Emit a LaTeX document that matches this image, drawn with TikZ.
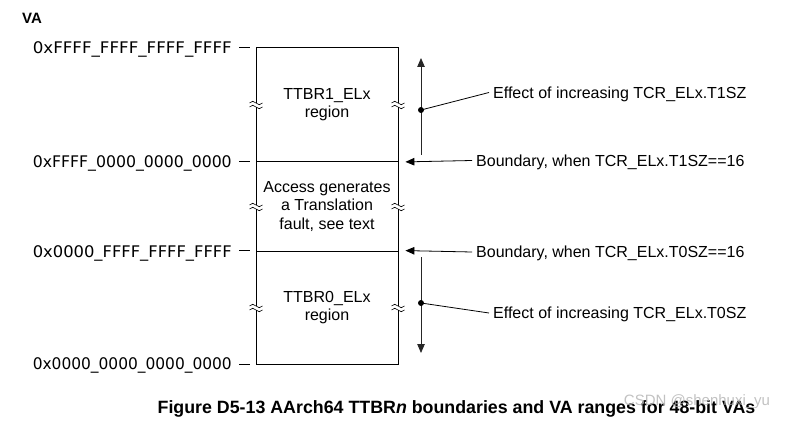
\documentclass[tikz,border=0pt]{standalone}
\usepackage{fontspec}
\setmainfont{Liberation Sans}
\newfontfamily\addrfont{DejaVu Sans}
\usetikzlibrary{arrows.meta}
\newcommand{\vaddr}[1]{\resizebox{199pt}{\height}{#1}}
\tikzset{
	addr/.style={anchor=east, inner sep=0pt, text height=11.5pt, text depth=0pt, font=\addrfont\fontsize{16}{18}\selectfont},
	region/.style={draw, line width=0.8pt, minimum width=142pt, inner sep=0pt, align=center, font=\fontsize{16}{18.5}\selectfont},
	note/.style={anchor=west, inner sep=4pt, text height=11.5pt, text depth=0pt, font=\fontsize{16}{18}\selectfont},
	tip/.style={-{Triangle[length=9pt,width=7.5pt]}, line width=0.8pt, draw=black!85},
}
\begin{document}
\begin{tikzpicture}[x=1pt,y=-1pt]
	\useasboundingbox (0,0) rectangle (787,422);
	\node (VA) at (32,18.5) [inner sep=0pt, font=\bfseries\fontsize{15}{18}\selectfont] {VA};
	% regions
	\node (R1) at (327,104.5) [region, minimum height=114pt] {TTBR1\_ELx\\region};
	\node (R2) at (327,206.5) [region, minimum height=90pt] {Access generates\\a Translation\\fault, see text};
	\node (R0) at (327,307.5) [region, minimum height=113pt] {TTBR0\_ELx\\region};
	% addresses
	\node (A3) at (232,47.5) [addr] {\vaddr{0xFFFF\_FFFF\_FFFF\_FFFF}};
	\node (A2) at (232,161.5) [addr] {\vaddr{0xFFFF\_0000\_0000\_0000}};
	\node (A1) at (232,251.5) [addr] {\vaddr{0x0000\_FFFF\_FFFF\_FFFF}};
	\node (A0) at (232,364) [addr] {\vaddr{0x0000\_0000\_0000\_0000}};
	\draw[line width=0.8pt] ([xshift=-6pt]R1.north west) -- ([xshift=-17pt]R1.north west);
	\draw[line width=0.8pt] ([xshift=-6pt]R1.south west) -- ([xshift=-17pt]R1.south west);
	\draw[line width=0.8pt] ([xshift=-6pt]R0.north west) -- ([xshift=-17pt]R0.north west);
	\draw[line width=0.8pt] ([xshift=-6pt]R0.south west) -- ([xshift=-17pt]R0.south west);
	% breaks
	\foreach \y in {105,207,308}
		\foreach \x in {256,398} {
			\fill[white] (\x-5,\y-2) rectangle (\x+5,\y+2);
			\draw[line width=0.6pt] (\x-6.5,\y-2) sin (\x-3.25,\y-3.7) cos (\x,\y-2) sin (\x+3.25,\y-0.3) cos (\x+6.5,\y-2);
			\draw[line width=0.6pt] (\x-6.5,\y+2) sin (\x-3.25,\y+0.3) cos (\x,\y+2) sin (\x+3.25,\y+3.7) cos (\x+6.5,\y+2);
		}
	% notes
	\node (B1) at (472,160.5) [note] {Boundary, when TCR\_ELx.T1SZ==16};
	\node (B0) at (472,252) [note] {Boundary, when TCR\_ELx.T0SZ==16};
	\node (E1) at (489,92.5) [note] {Effect of increasing TCR\_ELx.T1SZ};
	\node (E0) at (489,313) [note] {Effect of increasing TCR\_ELx.T0SZ};
	\draw[tip, draw=black] (B1.west) -- ([xshift=7pt]R1.south east);
	\draw[tip, draw=black] (B0.west) -- ([xshift=7pt]R0.north east);
	\coordinate (U1) at (421,155);
	\coordinate (U2) at (421,58);
	\coordinate (D1) at (421,257);
	\coordinate (D2) at (421,353);
	\draw[tip] (U1) -- (U2);
	\draw[tip] (D1) -- (D2);
	\coordinate (P1) at (421,110);
	\coordinate (P0) at (421,303);
	\fill (P1) circle (3pt);
	\fill (P0) circle (3pt);
	\draw[line width=0.8pt] (P1) -- (E1.west);
	\draw[line width=0.8pt] (P0) -- (E0.west);
	% caption
	\node (CAP) at (456.5,409) [inner sep=0pt, font=\bfseries\fontsize{17.8}{20}\selectfont] {Figure D5-13 AArch64 TTBR\textit{n} boundaries and VA ranges for 48-bit VAs};
	\node (WM) at (697,402) [inner sep=0pt, text=black!30, opacity=0.8, font=\fontsize{15}{18}\selectfont] {CSDN @shenhuxi\_yu};
\end{tikzpicture}
\end{document}
